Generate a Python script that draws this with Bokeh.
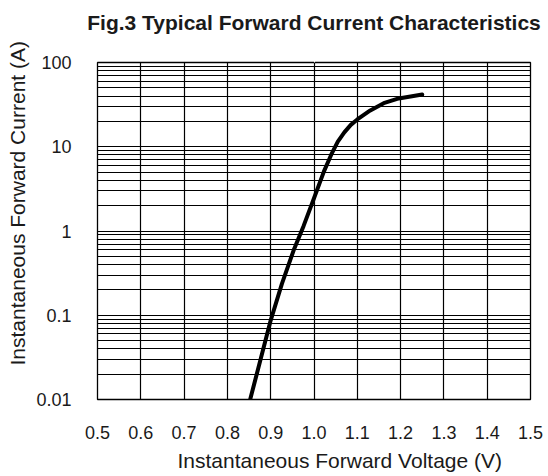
import math
from bokeh.plotting import figure
from bokeh.models import Range1d, FixedTicker, Title, PrintfTickFormatter, LogTickFormatter, LinearAxis
from bokeh.embed import file_html
from bokeh.resources import INLINE

# ---- data ----
voltage = [0.853, 0.900, 0.926, 0.953, 0.976, 1.000, 1.023, 1.040, 1.055, 1.070, 1.085,
           1.100, 1.130, 1.161, 1.192, 1.223, 1.250]
current = [0.0102, 0.087, 0.237, 0.59, 1.15, 2.45, 5.1, 8.1, 11.5, 14.8, 18.2,
           21.1, 27.0, 32.9, 37.1, 39.5, 41.7]

x_ticks = [0.5, 0.6, 0.7, 0.8, 0.9, 1.0, 1.1, 1.2, 1.3, 1.4, 1.5]
y_ticks = [0.01, 0.1, 1, 10, 100]
y_tick_labels = ["0.01", "0.1", "1", "10", "100"]
y_grid_mult = [1, 2, 3, 4, 5, 6, 7, 8, 9]
y_decades = [0.01, 0.1, 1, 10]

title_text = "Fig.3 Typical Forward Current Characteristics"
x_title = "Instantaneous Forward Voltage (V)"
y_title = "Instantaneous Forward Current (A)"

FONT = "Liberation Sans"
TXT = "#1a1a1a"

p = figure(width=548, height=476, output_backend="svg", toolbar_location=None,
           x_range=Range1d(0.5, 1.5), y_range=Range1d(0.01, 100), y_axis_type="log",
           min_border_left=97, min_border_right=18, min_border_top=62, min_border_bottom=77)
p.background_fill_color = "white"
p.border_fill_color = "white"
p.outline_line_color = "black"
p.outline_line_width = 1.3
p.title.text = ""

# axes
p.xaxis.ticker = FixedTicker(ticks=x_ticks)
p.xaxis.formatter = PrintfTickFormatter(format="%.1f")
p.yaxis.ticker = FixedTicker(ticks=y_ticks)
p.yaxis.formatter = LogTickFormatter(min_exponent=3)
p.yaxis.major_label_overrides = {t: l for t, l in zip(y_ticks, y_tick_labels)}
for ax in (p.xaxis[0], p.yaxis[0]):
    ax.axis_line_color = None
    ax.major_tick_line_color = None
    ax.minor_tick_line_color = None
    ax.major_label_text_font = FONT
    ax.major_label_text_font_size = "18px"
    ax.major_label_text_color = TXT
    ax.major_label_standoff = 20


def spacer(size, tick):
    # blank axis that only reserves room: one white tick on the white border, no labels
    return LinearAxis(ticker=FixedTicker(ticks=[tick]), major_tick_out=size, major_tick_in=0,
                      axis_line_color=None, major_tick_line_color="white",
                      minor_tick_line_color=None, major_label_standoff=0,
                      major_label_overrides={tick: ""}, major_label_text_color=None)


# grid
p.xgrid.ticker = FixedTicker(ticks=x_ticks)
p.ygrid.ticker = FixedTicker(ticks=[m * d for d in y_decades for m in y_grid_mult] + [100])
for g in (p.xgrid[0], p.ygrid[0]):
    g.grid_line_color = "black"
    g.grid_line_width = 1.2
    g.grid_line_alpha = 1.0

# curve
p.line(voltage, current, line_color="black", line_width=4, line_join="round", line_cap="round")

# titles
p.add_layout(spacer(29, 1.0), "above")
p.add_layout(Title(text=title_text, align="center", standoff=0,
                   text_font=FONT, text_font_style="bold", text_font_size="21px",
                   text_color=TXT), "above")

p.add_layout(Title(text=x_title, align="left", offset=80, standoff=10,
                   text_font=FONT, text_font_style="normal", text_font_size="21px",
                   text_color=TXT), "below")

p.add_layout(spacer(5, 1.0), "left")
p.add_layout(Title(text=y_title, align="left", offset=34, standoff=0,
                   text_font=FONT, text_font_style="normal", text_font_size="21px",
                   text_color=TXT), "left")

open("out.html", "w").write(file_html(p, INLINE))
